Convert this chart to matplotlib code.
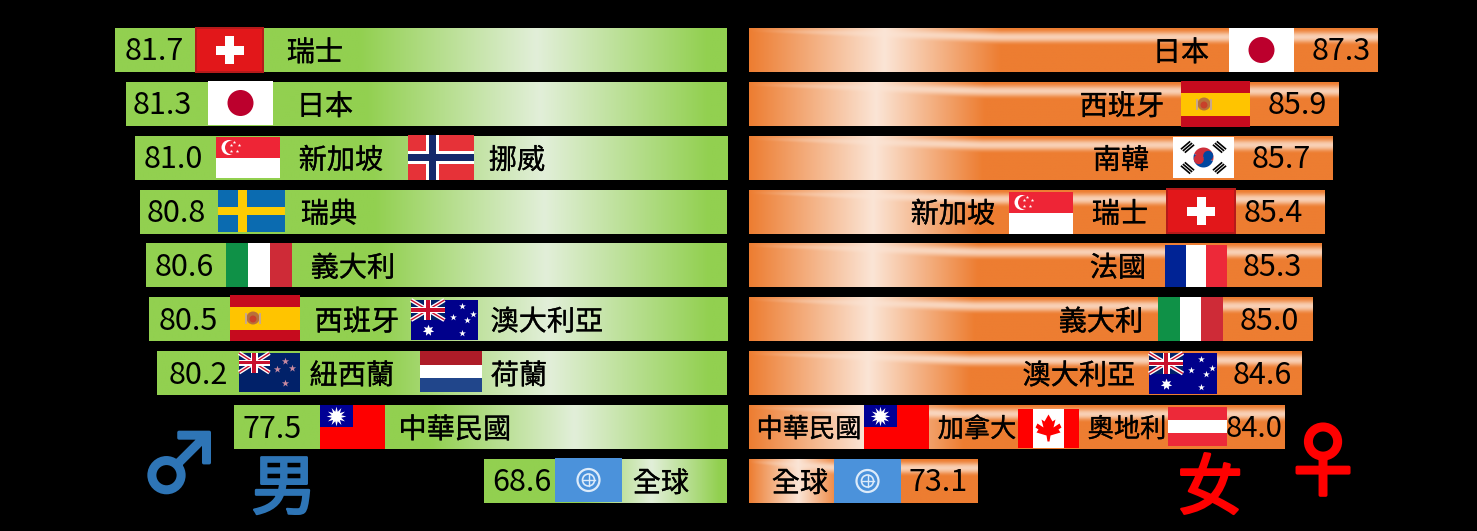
import numpy as np
import matplotlib
matplotlib.use("Agg")
import matplotlib.pyplot as plt
import matplotlib.patheffects as pe
from matplotlib.patches import Circle, Rectangle, Polygon, Wedge

plt.rcParams["font.family"] = ["Noto Sans CJK TC", "DejaVu Sans"]

male_values = [81.7, 81.3, 81.0, 80.8, 80.6, 80.5, 80.2, 77.5, 68.6]
female_values = [87.3, 85.9, 85.7, 85.4, 85.3, 85.0, 84.6, 84.0, 73.1]
male_labels = [["瑞士"], ["日本"], ["新加坡", "挪威"], ["瑞典"], ["義大利"],
               ["西班牙", "澳大利亞"], ["紐西蘭", "荷蘭"], ["中華民國"], ["全球"]]
female_labels = [["日本"], ["西班牙"], ["南韓"], ["新加坡", "瑞士"], ["法國"],
                 ["義大利"], ["澳大利亞"], ["中華民國", "加拿大", "奧地利"], ["全球"]]

# layout in pixels
male_value_x = [154, 162, 173, 176, 184, 188, 198, 272, 522]
female_value_x = [1341, 1297, 1281, 1273, 1272, 1269, 1262, 1254, 938]
male_label_x = [[315], [325], [341, 517], [329], [353], [357, 547], [352, 519], [455], [661]]
female_label_x = [[1181], [1122], [1121], [953, 1120], [1118], [1101], [1079], [809, 977, 1127], [800]]
male_flags = [[("ch", 195, 27, 264, 73)], [("jp", 208, 81, 273, 125)],
              [("sg", 216, 137, 280, 178), ("no", 408, 135, 474, 180)],
              [("se", 218, 190, 285, 232)], [("it", 226, 243, 292, 287)],
              [("es", 230, 295, 300, 341), ("au", 411, 300, 478, 340)],
              [("nz", 239, 353, 300, 392), ("nl", 420, 351, 482, 392)],
              [("roc", 320, 405, 385, 449)], [("un", 555, 458, 622, 502)]]
female_flags = [[("jp", 1229, 28, 1294, 72)], [("es", 1181, 81, 1250, 127)],
                [("kr", 1173, 137, 1234, 178)],
                [("sg", 1009, 192, 1073, 234), ("ch", 1166, 188, 1236, 234)],
                [("fr", 1165, 245, 1227, 287)], [("it", 1158, 297, 1223, 341)],
                [("au", 1149, 353, 1217, 394)],
                [("roc", 864, 405, 929, 449), ("ca", 1018, 409, 1079, 448), ("at", 1168, 407, 1227, 446)],
                [("un", 834, 459, 901, 503)]]

W, H = 1477, 531
PX_PER_UNIT = 28.2
MALE_BASE = 60.0
FEMALE_BASE = 65.0
ROW_TOP = 50.0
ROW_STEP = 53.86
BAR_H = 44.0 / ROW_STEP

GREEN = np.array([146, 208, 80]) / 255
GREEN_LIGHT = np.array([226, 239, 217]) / 255
ORANGE = np.array([237, 125, 49]) / 255
ORANGE_LIGHT = np.array([251, 229, 214]) / 255


def green_img():
    u = np.linspace(0, 1, 300)
    t = np.interp(u, [0, 0.40, 0.69, 0.97, 1], [0, 0, 1, 0, 0])
    return (GREEN + t[:, None] * (GREEN_LIGHT - GREEN))[None, :, :]


def orange_img():
    u = np.linspace(0, 1, 400)
    v = np.linspace(0, 1, 60)
    uu, vv = np.meshgrid(u, v)
    t = np.interp(uu, [0, 0.215, 0.40, 1], [0, 1, 0, 0])
    # soft shine along the top of the bar, fading out to the left
    centre = np.interp(uu, [0, 0.4], [0.05, 0.2])
    half = np.interp(uu, [0, 0.4], [0.05, 0.2])
    d = np.clip(np.abs(vv - centre) / half, 0, 1)
    band = (0.5 + 0.5 * np.cos(np.pi * d)) * np.interp(uu, [0, 0.1, 0.35], [0, 0.3, 0.8])
    t = 1 - (1 - t) * (1 - band)
    return ORANGE + t[:, :, None] * (ORANGE_LIGHT - ORANGE)


def value_axes(fig, px0, px1, v0, v1):
    ax = fig.add_axes([px0 / W, 0, (px1 - px0) / W, 1])
    ax.set_axis_off()
    ax.set_xlim(v0, v1)
    ax.set_ylim((H - ROW_TOP) / ROW_STEP, -ROW_TOP / ROW_STEP)
    return ax


fig = plt.figure(figsize=(W / 100, H / 100), dpi=100, facecolor="black")
ax_m = value_axes(fig, 0, 727, MALE_BASE + 727 / PX_PER_UNIT, MALE_BASE)
ax_f = value_axes(fig, 749, W, FEMALE_BASE, FEMALE_BASE + (W - 749) / PX_PER_UNIT)

for i, v in enumerate(male_values):
    ax_m.imshow(green_img(), extent=(v, MALE_BASE, i + BAR_H / 2, i - BAR_H / 2),
                aspect="auto", interpolation="bilinear")
for i, v in enumerate(female_values):
    ax_f.imshow(orange_img(), extent=(FEMALE_BASE, v, i + BAR_H / 2, i - BAR_H / 2),
                aspect="auto", interpolation="bilinear")
for ax, lim in ((ax_m, (MALE_BASE + 727 / PX_PER_UNIT, MALE_BASE)),
                (ax_f, (FEMALE_BASE, FEMALE_BASE + (W - 749) / PX_PER_UNIT))):
    ax.set_xlim(*lim)
    ax.set_ylim((H - ROW_TOP) / ROW_STEP, -ROW_TOP / ROW_STEP)

ov = fig.add_axes([0, 0, 1, 1])
ov.set_axis_off()
ov.patch.set_alpha(0)
ov.set_xlim(0, W)
ov.set_ylim(H, 0)


def rect(x0, y0, x1, y1, color, z=3):
    ov.add_patch(Rectangle((x0, y0), x1 - x0, y1 - y0, fc=color, ec="none", zorder=z))


def stars(xs, ys, size, color="white", marker="*"):
    ov.scatter(xs, ys, s=size, c=color, marker=marker, linewidths=0, zorder=5)


def union_jack(x0, y0, x1, y1):
    rect(x0, y0, x1, y1, "#012169", 4)
    for a, b in (((x0, y0), (x1, y1)), ((x0, y1), (x1, y0))):
        ov.plot([a[0], b[0]], [a[1], b[1]], color="white", lw=3, zorder=4.1, solid_capstyle="butt")
        ov.plot([a[0], b[0]], [a[1], b[1]], color="#C8102E", lw=1, zorder=4.2, solid_capstyle="butt")
    cx, cy = (x0 + x1) / 2, (y0 + y1) / 2
    rect(x0, cy - 3, x1, cy + 3, "white", 4.3)
    rect(cx - 3.5, y0, cx + 3.5, y1, "white", 4.3)
    rect(x0, cy - 1.7, x1, cy + 1.7, "#C8102E", 4.4)
    rect(cx - 2, y0, cx + 2, y1, "#C8102E", 4.4)


def draw_flag(code, x0, y0, x1, y1):
    w, h = x1 - x0, y1 - y0
    cx, cy = (x0 + x1) / 2, (y0 + y1) / 2
    if code == "ch":
        rect(x0, y0, x1, y1, "#B51A1A")
        rect(x0 + 2, y0 + 2, x1 - 2, y1 - 2, "#E2171A")
        rect(cx - 4.5, cy - 14, cx + 4.5, cy + 14, "white", 4)
        rect(cx - 14, cy - 4.5, cx + 14, cy + 4.5, "white", 4)
    elif code == "jp":
        rect(x0, y0, x1, y1, "white")
        ov.add_patch(Circle((cx, cy), 13, fc="#BC002D", ec="none", zorder=4))
    elif code == "sg":
        rect(x0, y0, x1, y1, "white")
        rect(x0, y0, x1, cy, "#EE2536")
        ov.add_patch(Circle((x0 + 13, y0 + 10.5), 7.5, fc="white", ec="none", zorder=4))
        ov.add_patch(Circle((x0 + 16, y0 + 10.5), 7, fc="#EE2536", ec="none", zorder=4.1))
        stars([x0 + 18, x0 + 23, x0 + 21, x0 + 15, x0 + 15],
              [y0 + 5, y0 + 8, y0 + 14, y0 + 14, y0 + 8], 7)
    elif code == "no":
        rect(x0, y0, x1, y1, "#E63238")
        rect(x0 + 18, y0, x0 + 31, y1, "white", 4)
        rect(x0, cy - 6.5, x1, cy + 6.5, "white", 4)
        rect(x0 + 21, y0, x0 + 28, y1, "#14296B", 4.1)
        rect(x0, cy - 3.5, x1, cy + 3.5, "#14296B", 4.1)
    elif code == "se":
        rect(x0, y0, x1, y1, "#0B6BB0")
        rect(x0 + 20, y0, x0 + 29, y1, "#FECC02", 4)
        rect(x0, cy - 4, x1, cy + 4, "#FECC02", 4)
    elif code == "it":
        rect(x0, y0, x0 + w / 3, y1, "#0F9147")
        rect(x0 + w / 3, y0, x0 + 2 * w / 3, y1, "white")
        rect(x0 + 2 * w / 3, y0, x1, y1, "#CE2B37")
    elif code == "es":
        rect(x0, y0, x1, y1, "#C60B1E")
        rect(x0, y0 + h / 4, x1, y1 - h / 4, "#FFC400", 4)
        ov.add_patch(Circle((x0 + 23, cy), 6.5, fc="#B8703A", ec="none", zorder=4.1))
        ov.add_patch(Circle((x0 + 23, cy + 1), 3.5, fc="#C8402A", ec="none", zorder=4.2))
        rect(x0 + 15, cy - 5, x0 + 17, cy + 6, "#C9A88A", 4.2)
        rect(x0 + 29, cy - 5, x0 + 31, cy + 6, "#C9A88A", 4.2)
    elif code == "au":
        rect(x0, y0, x1, y1, "#00008B")
        union_jack(x0, y0, x0 + w / 2, y0 + h / 2)
        stars([x0 + w * 0.76, x0 + w * 0.76, x0 + w * 0.62, x0 + w * 0.92, x0 + w * 0.84],
              [y0 + h * 0.14, y0 + h * 0.82, y0 + h * 0.42, y0 + h * 0.36, y0 + h * 0.5], 26)
        stars([x0 + w * 0.25], [y0 + h * 0.75], 70, marker=(7, 1, 0))
    elif code == "nz":
        rect(x0, y0, x1, y1, "#012169")
        union_jack(x0, y0, x0 + w / 2, y0 + h / 2)
        stars([x0 + w * 0.75, x0 + w * 0.63, x0 + w * 0.87, x0 + w * 0.75],
              [y0 + h * 0.2, y0 + h * 0.42, y0 + h * 0.38, y0 + h * 0.78], 30, "#C98AA0")
    elif code == "nl":
        rect(x0, y0, x1, y1, "white")
        rect(x0, y0, x1, y0 + h / 3, "#AE1C28")
        rect(x0, y1 - h / 3, x1, y1, "#21468B")
    elif code == "roc":
        rect(x0, y0, x1, y1, "#FE0000")
        rect(x0, y0, cx, cy, "#000095", 4)
        stars([x0 + w / 4], [y0 + h / 4], 200, marker=(12, 1, 0))
    elif code == "un":
        rect(x0, y0, x1, y1, "#4B92DB")
        ov.add_patch(Circle((cx, cy), 11, fc="none", ec="#DCEBFA", lw=1.6, zorder=4))
        ov.add_patch(Circle((cx, cy), 6, fc="none", ec="#DCEBFA", lw=1.2, zorder=4))
        ov.plot([cx - 6, cx + 6], [cy, cy], color="#DCEBFA", lw=1, zorder=4)
        ov.plot([cx, cx], [cy - 6, cy + 6], color="#DCEBFA", lw=1, zorder=4)
    elif code == "kr":
        rect(x0, y0, x1, y1, "white")
        ov.add_patch(Wedge((cx, cy), 10, 200, 20, fc="#CD2E3A", ec="none", zorder=4))
        ov.add_patch(Wedge((cx, cy), 10, 20, 200, fc="#0047A0", ec="none", zorder=4))
        ov.add_patch(Circle((cx - 4.7, cy + 1.7), 5, fc="#CD2E3A", ec="none", zorder=4.1))
        ov.add_patch(Circle((cx + 4.7, cy - 1.7), 5, fc="#0047A0", ec="none", zorder=4.1))
        for sx, sy in ((-1, -1), (1, -1), (-1, 1), (1, 1)):
            for k in (-2.6, 0, 2.6):
                px = cx + sx * 16 + k * 0.75
                py = cy + sy * 10.5 + k * 0.65 * sx * sy
                dx, dy = 4, -sx * sy * 3.4
                ov.plot([px - dx, px + dx], [py - dy, py + dy], color="black", lw=1.2, zorder=4)
    elif code == "fr":
        rect(x0, y0, x0 + w / 3, y1, "#002395")
        rect(x0 + w / 3, y0, x0 + 2 * w / 3, y1, "white")
        rect(x0 + 2 * w / 3, y0, x1, y1, "#ED2939")
    elif code == "ca":
        rect(x0, y0, x1, y1, "white")
        rect(x0, y0, x0 + w / 4, y1, "#FF0000")
        rect(x1 - w / 4, y0, x1, y1, "#FF0000")
        leaf = [(0, -14), (4, -7), (7, -9), (5, -1), (11, -5), (13, -1), (10, 1), (12, 4),
                (2, 7), (1, 13), (-1, 13), (-2, 7), (-12, 4), (-10, 1), (-13, -1), (-11, -5),
                (-5, -1), (-7, -9), (-4, -7)]
        ov.add_patch(Polygon([(cx + a, cy + b) for a, b in leaf], fc="#FF0000", ec="none", zorder=4))
    elif code == "at":
        rect(x0, y0, x1, y1, "#ED2939")
        rect(x0, y0 + h / 3, x1, y1 - h / 3, "white", 4)


for flags in male_flags + female_flags:
    for f in flags:
        draw_flag(*f)


def put(x, y, s, size=20.3, color="black", thick=0.2):
    t = ov.text(x, y, s, fontsize=size, color=color, ha="center", va="center_baseline", zorder=6)
    if thick:
        t.set_path_effects([pe.withStroke(linewidth=thick, foreground=color)])


for i in range(9):
    y = ROW_TOP + ROW_STEP * i
    put(male_value_x[i], y - 1.5, f"{male_values[i]:.1f}", 22, thick=0)
    put(female_value_x[i], y - 1.5, f"{female_values[i]:.1f}", 21 if i == 7 else 22, thick=0)
    for s, x in zip(male_labels[i], male_label_x[i]):
        put(x, y - 0.5, s)
    small = i == 7
    for s, x in zip(female_labels[i], female_label_x[i]):
        put(x, y - 0.5, s, 18.9 if small else 20.3)

put(284, 483, "男", 47, "#2E75B6", thick=1.8)
put(1210, 483, "女", 47, "#FF0000", thick=1.8)
put(180, 460, "♂", 58, "#2E75B6", thick=2.5)
put(1323, 458, "♀", 58, "#FF0000", thick=2.5)

fig.savefig("out.png", dpi=100, facecolor="black")
plt.close(fig)
